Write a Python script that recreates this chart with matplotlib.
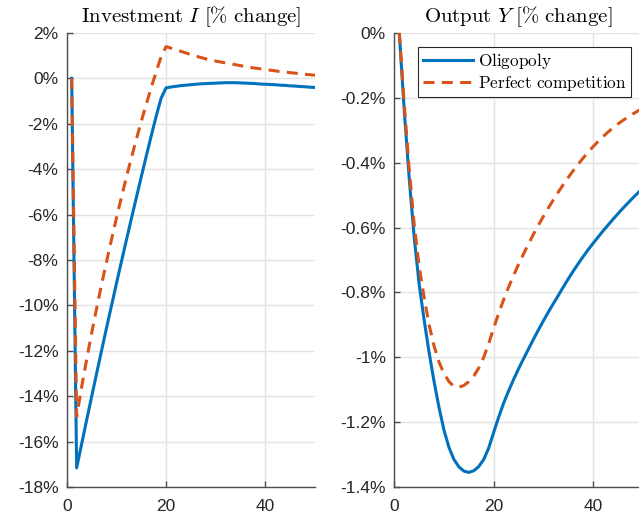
import numpy as np
import matplotlib
matplotlib.use("Agg")
from matplotlib import pyplot as plt

# periods 1..50
t = np.arange(1, 51)

inv_oligopoly = [0.00, -17.16, -16.11, -15.07, -14.04, -13.02, -12.01, -11.01, -10.03, -9.05,
                 -8.09, -7.14, -6.20, -5.27, -4.35, -3.44, -2.55, -1.68, -0.88, -0.42,
                 -0.38, -0.35, -0.32, -0.30, -0.28, -0.26, -0.24, -0.23, -0.22, -0.21,
                 -0.20, -0.19, -0.19, -0.19, -0.20, -0.21, -0.22, -0.23, -0.25, -0.26,
                 -0.27, -0.28, -0.30, -0.31, -0.33, -0.34, -0.36, -0.37, -0.39, -0.40]
inv_perfect = [0.00, -14.90, -13.60, -12.40, -11.25, -10.15, -9.10, -8.10, -7.12, -6.17,
               -5.25, -4.37, -3.52, -2.70, -1.91, -1.15, -0.42, 0.28, 0.95, 1.40,
               1.33, 1.26, 1.19, 1.12, 1.05, 0.98, 0.92, 0.86, 0.81, 0.76,
               0.72, 0.68, 0.64, 0.60, 0.56, 0.52, 0.48, 0.45, 0.42, 0.39,
               0.36, 0.33, 0.30, 0.28, 0.25, 0.23, 0.20, 0.18, 0.16, 0.14]

out_oligopoly = [0.00, -0.24, -0.45, -0.63, -0.775, -0.885, -0.985, -1.075, -1.155, -1.225,
                 -1.278, -1.315, -1.338, -1.351, -1.355, -1.35, -1.337, -1.315, -1.28, -1.232,
                 -1.185, -1.142, -1.104, -1.069, -1.036, -1.005, -0.975, -0.945, -0.916, -0.888,
                 -0.861, -0.835, -0.810, -0.784, -0.759, -0.735, -0.712, -0.690, -0.669, -0.649,
                 -0.630, -0.611, -0.593, -0.575, -0.558, -0.541, -0.525, -0.509, -0.494, -0.479]
out_perfect = [0.00, -0.22, -0.42, -0.59, -0.72, -0.815, -0.90, -0.965, -1.015, -1.05,
               -1.075, -1.09, -1.092, -1.087, -1.075, -1.058, -1.033, -1.0, -0.958, -0.91,
               -0.865, -0.823, -0.784, -0.748, -0.714, -0.682, -0.651, -0.621, -0.593, -0.566,
               -0.540, -0.515, -0.491, -0.468, -0.446, -0.425, -0.405, -0.386, -0.368, -0.351,
               -0.335, -0.320, -0.306, -0.293, -0.281, -0.270, -0.260, -0.250, -0.241, -0.232]

x_ticks = [0, 20, 40]
inv_ticks = [2, 0, -2, -4, -6, -8, -10, -12, -14, -16, -18]
inv_ticklabels = ['2%', '0%', '-2%', '-4%', '-6%', '-8%', '-10%', '-12%', '-14%', '-16%', '-18%']
out_ticks = [0, -0.2, -0.4, -0.6, -0.8, -1.0, -1.2, -1.4]
out_ticklabels = ['0%', '-0.2%', '-0.4%', '-0.6%', '-0.8%', '-1%', '-1.2%', '-1.4%']

blue = '#0072BD'
orange = '#D95319'

plt.rcParams['font.family'] = ['Liberation Sans', 'DejaVu Sans']
plt.rcParams['mathtext.fontset'] = 'cm'

fig = plt.figure(figsize=(6.39, 5.19), dpi=100)
ax1 = fig.add_axes([0.1044, 0.0617, 0.3886, 0.8748])
ax2 = fig.add_axes([0.6171, 0.0617, 0.3886, 0.8748])


def style(ax, yticks, ylabels, ylim):
    ax.set_xlim(0, 50)
    ax.set_ylim(*ylim)
    ax.set_xticks(x_ticks)
    ax.set_xticklabels([str(v) for v in x_ticks])
    ax.set_yticks(yticks)
    ax.set_yticklabels(ylabels)
    ax.grid(True, color='#e3e3e3', linewidth=1)
    ax.set_axisbelow(True)
    for s in ['top', 'right']:
        ax.spines[s].set_visible(False)
    for s in ['left', 'bottom']:
        ax.spines[s].set_color('#4d4d4d')
        ax.spines[s].set_linewidth(1)
    ax.tick_params(direction='in', length=4, width=1, color='#4d4d4d',
                   labelsize=12.5, labelcolor='#262626')
    ax.tick_params(axis='x', pad=9)
    ax.tick_params(axis='y', pad=6)


ax1.plot(t, inv_oligopoly, color=blue, lw=2.2)
ax1.plot(t, inv_perfect, color=orange, lw=2.2, dashes=(3.6, 2.4))
style(ax1, inv_ticks, inv_ticklabels, (-18, 2))
ax1.set_title(r'$\mathrm{Investment}\ I\ [\%\ \mathrm{change}]$', fontsize=15, pad=8)

ax2.plot(t, out_oligopoly, color=blue, lw=2.2, label=r'$\mathrm{Oligopoly}$')
ax2.plot(t, out_perfect, color=orange, lw=2.2, dashes=(3.6, 2.4),
         label=r'$\mathrm{Perfect\ competition}$')
style(ax2, out_ticks, out_ticklabels, (-1.4, 0))
ax2.set_title(r'$\mathrm{Output}\ Y\ [\%\ \mathrm{change}]$', fontsize=15, pad=8)

leg = ax2.legend(loc='upper left', bbox_to_anchor=(0.0967, 0.9698), borderaxespad=0,
                 fontsize=12.4, handlelength=2.9, fancybox=False, framealpha=1,
                 edgecolor='#262626', borderpad=0.25, labelspacing=0.15, handletextpad=0.3)
leg.get_frame().set_linewidth(0.8)

fig.savefig('out.png', dpi=100)
